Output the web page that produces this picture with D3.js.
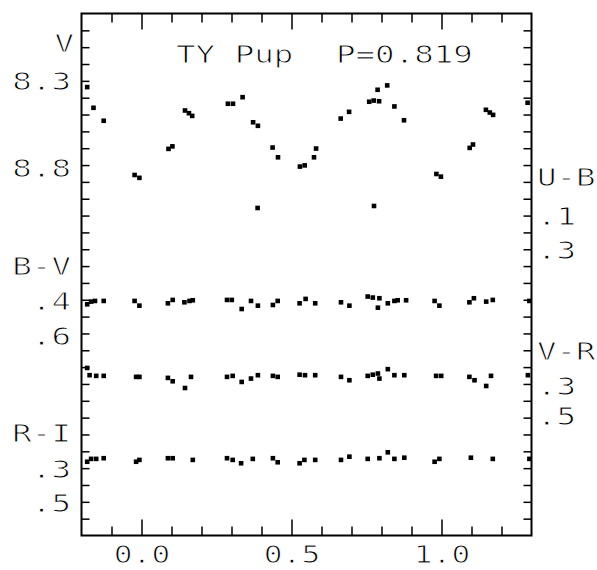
<!DOCTYPE html>
<html>
<head>
<meta charset="utf-8">
<script src="https://cdn.jsdelivr.net/npm/d3@7"></script>
<style>
  body { margin: 0; background: #fff; }
  text { font-family: "DejaVu Sans Mono", monospace; font-size: 25px; fill: #000; stroke: #fff; stroke-width: 0.9px; }
</style>
</head>
<body>
<svg id="chart" width="597" height="570"></svg>
<script>
// phase, V magnitude
const vPoints = [
  [-0.181, 8.337], [-0.160, 8.460], [-0.126, 8.537], [-0.023, 8.859], [-0.007, 8.876],
  [0.090, 8.704], [0.103, 8.689], [0.145, 8.476], [0.158, 8.492], [0.169, 8.508],
  [0.288, 8.436], [0.305, 8.436], [0.337, 8.397], [0.372, 8.546], [0.388, 8.567],
  [0.387, 9.055], [0.437, 8.696], [0.455, 8.754], [0.528, 8.809], [0.544, 8.802],
  [0.575, 8.754], [0.582, 8.702], [0.664, 8.524], [0.692, 8.484], [0.759, 8.424],
  [0.774, 8.417], [0.775, 9.043], [0.787, 8.353], [0.792, 8.421], [0.819, 8.327],
  [0.843, 8.452], [0.875, 8.534], [0.983, 8.853], [0.998, 8.869], [1.094, 8.698],
  [1.105, 8.678], [1.148, 8.472], [1.161, 8.488], [1.172, 8.502], [1.287, 8.430]
];

// phase, B-V
const bvPoints = [
  [-0.181, 0.408], [-0.168, 0.392], [-0.155, 0.388], [-0.126, 0.388], [-0.023, 0.388],
  [-0.007, 0.416], [0.088, 0.402], [0.104, 0.382], [0.143, 0.396], [0.160, 0.388],
  [0.171, 0.384], [0.285, 0.382], [0.301, 0.382], [0.334, 0.436], [0.365, 0.388],
  [0.388, 0.416], [0.438, 0.412], [0.454, 0.388], [0.527, 0.402], [0.547, 0.376],
  [0.579, 0.402], [0.665, 0.396], [0.693, 0.416], [0.754, 0.362], [0.771, 0.368],
  [0.793, 0.372], [0.788, 0.428], [0.821, 0.402], [0.843, 0.388], [0.854, 0.384],
  [0.882, 0.384], [0.977, 0.388], [0.993, 0.416], [1.093, 0.396], [1.108, 0.372],
  [1.149, 0.392], [1.171, 0.382], [1.293, 0.388]
];

// phase, V-R
const vrPoints = [
  [-0.181, 0.223], [-0.173, 0.266], [-0.151, 0.270], [-0.126, 0.270], [-0.018, 0.276],
  [-0.007, 0.276], [0.088, 0.282], [0.104, 0.302], [0.145, 0.342], [0.165, 0.276],
  [0.285, 0.276], [0.304, 0.270], [0.334, 0.306], [0.365, 0.286], [0.388, 0.266],
  [0.438, 0.270], [0.454, 0.276], [0.527, 0.263], [0.545, 0.266], [0.579, 0.266],
  [0.665, 0.276], [0.693, 0.296], [0.754, 0.270], [0.771, 0.263], [0.788, 0.256],
  [0.793, 0.286], [0.821, 0.230], [0.843, 0.266], [0.876, 0.266], [0.982, 0.270],
  [0.999, 0.270], [1.093, 0.276], [1.110, 0.296], [1.149, 0.330], [1.165, 0.270],
  [1.288, 0.266]
];

// phase, R-I
const riPoints = [
  [-0.181, 0.257], [-0.168, 0.240], [-0.151, 0.240], [-0.126, 0.236], [-0.018, 0.257],
  [-0.007, 0.246], [0.088, 0.236], [0.104, 0.236], [0.171, 0.246], [0.285, 0.236],
  [0.304, 0.246], [0.332, 0.266], [0.371, 0.240], [0.438, 0.236], [0.454, 0.260],
  [0.527, 0.266], [0.543, 0.246], [0.579, 0.246], [0.665, 0.246], [0.693, 0.227],
  [0.754, 0.240], [0.793, 0.236], [0.821, 0.201], [0.843, 0.240], [0.876, 0.233],
  [0.977, 0.257], [0.993, 0.240], [1.098, 0.233], [1.171, 0.240], [1.293, 0.240]
];

const majorPhase = [0, 0.5, 1.0];
const leftLabels = ["V", "8.3", "8.8", "B-V", ".4", ".6", "R-I", ".3", ".5"];
const rightLabels = ["U-B", ".1", ".3", "V-R", ".3", ".5"];
const titleStar = "TY Pup";
const titlePeriod = "P=0.819";

const svg = d3.select("#chart");

const x = d3.scaleLinear().domain([-0.2, 1.3]).range([81.5, 531.5]);
const y = d3.scaleLinear().domain([7.9, 11.0]).range([13.5, 535.5]);

// colour rows are drawn on the V scale with a fixed shift
const rows = [
  { pts: vPoints, shift: 0 },
  { pts: bvPoints, shift: 9.219 },
  { pts: vrPoints, shift: 9.782 },
  { pts: riPoints, shift: 10.305 }
];

const minorPhase = d3.range(-1, 13).map(d => d / 10)
  .filter(d => !majorPhase.some(m => Math.abs(m - d) < 1e-6));
const magTicks = d3.range(80, 110).map(d => d / 10);

const noDomain = g => g.select(".domain").remove();

svg.append("g")
  .attr("transform", "translate(0,535.5)")
  .call(d3.axisBottom(x).tickValues(minorPhase).tickSize(-9).tickFormat(""))
  .call(noDomain);
svg.append("g")
  .attr("class", "xlab")
  .attr("transform", "translate(0,535.5)")
  .call(d3.axisBottom(x).tickValues(majorPhase).tickSize(-16).tickPadding(10.5).tickFormat(d3.format(".1f")))
  .call(noDomain);
svg.append("g")
  .attr("transform", "translate(0,13.5)")
  .call(d3.axisTop(x).tickValues(minorPhase).tickSize(-9).tickFormat(""))
  .call(noDomain);
svg.append("g")
  .attr("transform", "translate(0,13.5)")
  .call(d3.axisTop(x).tickValues(majorPhase).tickSize(-16).tickFormat(""))
  .call(noDomain);
svg.append("g")
  .attr("transform", "translate(81.5,0)")
  .call(d3.axisLeft(y).tickValues(magTicks).tickSize(-8).tickFormat(""))
  .call(noDomain);
svg.append("g")
  .attr("transform", "translate(531.5,0)")
  .call(d3.axisRight(y).tickValues(magTicks).tickSize(-8).tickFormat(""))
  .call(noDomain);

svg.selectAll(".tick line").attr("stroke", "#000").attr("stroke-width", 1.5);
svg.selectAll(".xlab text")
  .attr("transform", "scale(1.3,1)")
  .style("font-size", "24px");

svg.append("rect")
  .attr("x", 81.5).attr("y", 13.5)
  .attr("width", 450).attr("height", 522)
  .attr("fill", "none").attr("stroke", "#000").attr("stroke-width", 2);

rows.forEach(r => {
  svg.append("g").selectAll("rect")
    .data(r.pts)
    .join("rect")
    .attr("x", d => x(d[0]) - 2.3)
    .attr("y", d => y(d[1] + r.shift) - 2.3)
    .attr("width", 4.6).attr("height", 4.6)
    .attr("fill", "#000");
});

const addLabel = (txt, px, py, anchor) => {
  svg.append("text")
    .attr("transform", `translate(${px},${py}) scale(1.3,1)`)
    .attr("text-anchor", anchor)
    .text(txt);
};

const leftBase = [52, 90, 177, 275, 310, 345, 442, 478, 512];
// the lone "V" sits a little further right, over the last digit
const leftEnd = [74, 71, 71, 71, 71, 71, 71, 71, 71];
leftLabels.forEach((t, i) => addLabel(t, leftEnd[i], leftBase[i], "end"));

const rightBase = [186, 225, 259, 360, 395, 425];
rightLabels.forEach((t, i) => addLabel(t, 537, rightBase[i], "start"));

addLabel(titleStar, 176, 63, "start");
addLabel(titlePeriod, 336, 63, "start");
</script>
</body>
</html>
